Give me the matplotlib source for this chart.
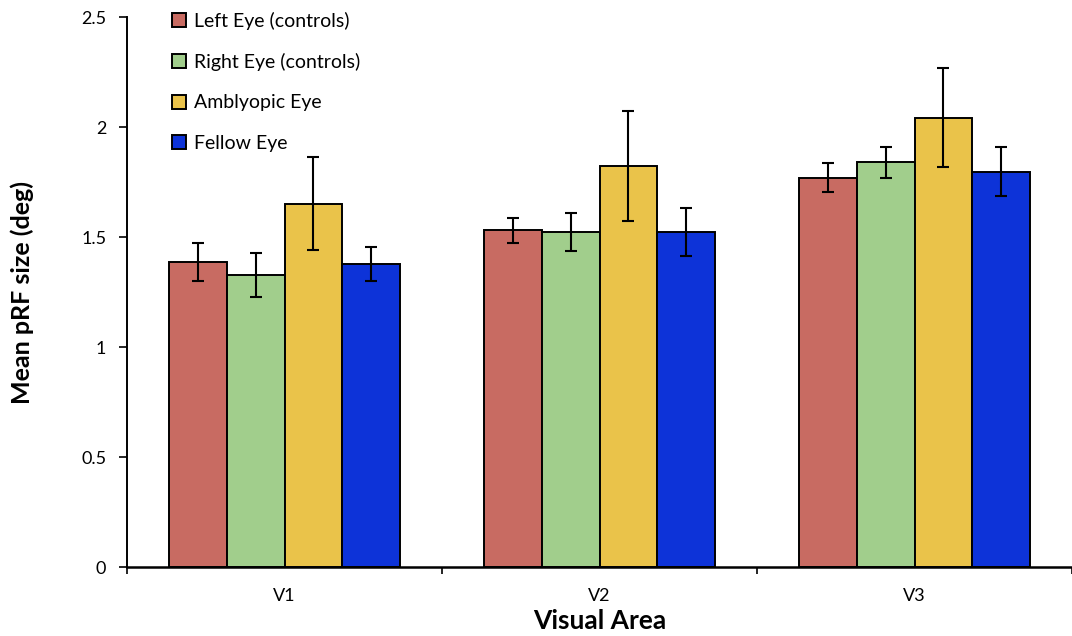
import numpy as np
import matplotlib.pyplot as plt

plt.rcParams['font.family'] = ['Lato', 'DejaVu Sans']

areas = ['V1', 'V2', 'V3']
series = ['Left Eye (controls)', 'Right Eye (controls)', 'Amblyopic Eye', 'Fellow Eye']
colors = ['#C86B62', '#A1CE8C', '#EAC34A', '#0D33D8']

left_eye = [1.386, 1.530, 1.770]
right_eye = [1.327, 1.523, 1.840]
amblyopic = [1.652, 1.821, 2.042]
fellow = [1.377, 1.523, 1.797]

left_err = [0.085, 0.055, 0.065]
right_err = [0.10, 0.085, 0.07]
amblyopic_err = [0.21, 0.25, 0.225]
fellow_err = [0.077, 0.11, 0.11]

means = [left_eye, right_eye, amblyopic, fellow]
errs = [left_err, right_err, amblyopic_err, fellow_err]

fig = plt.figure(figsize=(10.72, 6.36), dpi=100)
ax = fig.add_axes([127 / 1072, 69 / 636, 945 / 1072, 550 / 636])

centers = np.arange(len(areas)) + 0.5
width = 0.183
for i, (m, e, c, lab) in enumerate(zip(means, errs, colors, series)):
    x = centers + (i - 1.5) * width
    ax.bar(x, m, width, color=c, edgecolor='black', linewidth=1.4, label=lab, zorder=2)
    ax.errorbar(x, m, yerr=e, fmt='none', ecolor='black', elinewidth=1.5,
                capsize=4, capthick=1.5, zorder=3)

ax.set_xlim(0, 945 / 317)
ax.set_ylim(0, 2.5)
ax.set_yticks([0, 0.5, 1, 1.5, 2, 2.5])
ax.set_yticklabels(['0', '0.5', '1', '1.5', '2', '2.5'])

# group boundaries carry the tick marks, labels sit at the group centres
ax.set_xticks([0, 1, 2, 3])
ax.set_xticklabels([])
ax.set_xticks(centers, minor=True)
ax.set_xticklabels(areas, minor=True)
ax.tick_params(axis='x', which='minor', length=0, pad=15, labelsize=13)
ax.tick_params(axis='x', which='major', length=5, width=1.2, direction='out')
ax.tick_params(axis='y', length=6, width=1.2, direction='out', labelsize=13, pad=9)

for s in ['top', 'right']:
    ax.spines[s].set_visible(False)
ax.spines['left'].set_linewidth(1.4)
ax.spines['bottom'].set_linewidth(1.8)

ax.set_xlabel('Visual Area', fontsize=19, fontweight='bold', labelpad=4)
ax.set_ylabel('Mean pRF size (deg)', fontsize=18, fontweight='bold', labelpad=34)

ax.legend(loc='upper left', bbox_to_anchor=(160 / 1072, 1.0), bbox_transform=fig.transFigure,
          frameon=False, fontsize=14, handlelength=0.75, handleheight=0.75,
          handletextpad=0.4, labelspacing=1.2, borderaxespad=0.2)

fig.savefig('out.png', dpi=100)
